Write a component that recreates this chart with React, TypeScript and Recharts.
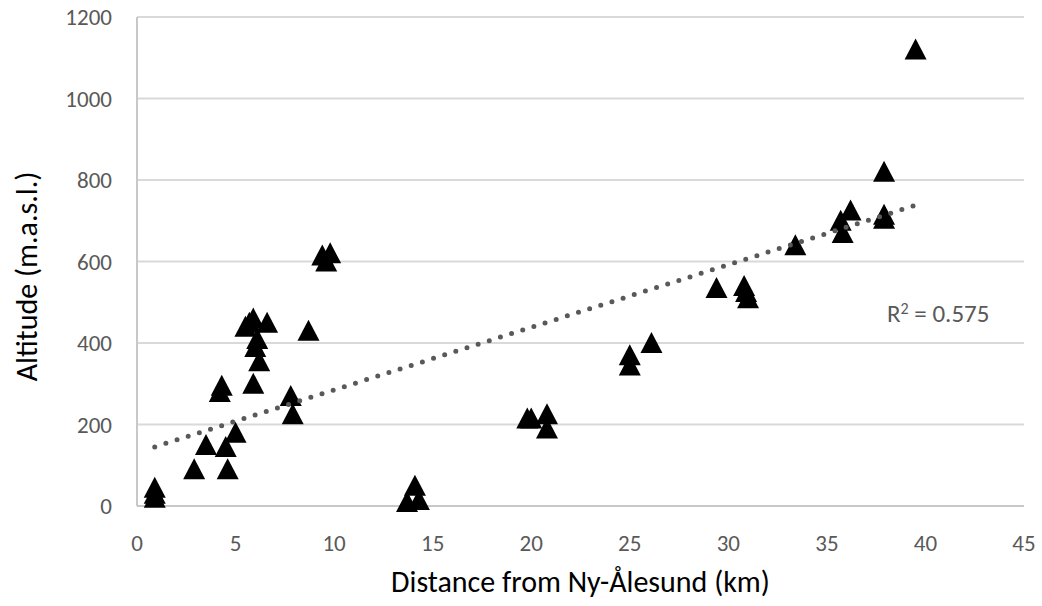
import { ScatterChart, Scatter, XAxis, YAxis, CartesianGrid, Label } from 'recharts';

// distance from Ny-Ålesund (km) and altitude (m.a.s.l.) per site
const distances = [
  0.9, 0.9, 0.9, 2.9, 3.5, 4.2, 4.3, 4.5, 4.6, 5.0,
  5.5, 5.7, 5.9, 5.9, 6.1, 6.0, 6.2, 6.6, 7.8, 7.9,
  8.7, 9.4, 9.8, 9.6, 13.7, 14.1, 14.3, 19.8, 20.0, 20.8,
  20.8, 25.0, 25.0, 26.1, 29.4, 30.8, 30.9, 31.0, 33.4, 35.7,
  35.8, 36.2, 37.9, 37.9, 37.9, 39.5,
];
const altitudes = [
  45, 30, 20, 90, 150, 280, 295, 145, 90, 180,
  440, 450, 460, 300, 410, 390, 355, 450, 270, 225,
  430, 615, 620, 600, 10, 50, 15, 215, 215, 225,
  190, 370, 345, 400, 535, 540, 525, 510, 640, 700,
  670, 725, 820, 715, 705, 1120,
];

// linear trendline ends as drawn
const trendX = [0.9, 39.5];
const trendY = [145, 738];

const xTicks = [0, 5, 10, 15, 20, 25, 30, 35, 40, 45];
const yTicks = [0, 200, 400, 600, 800, 1000, 1200];

const points = distances.map((d, i) => ({ x: d, y: altitudes[i] }));
const trend = trendX.map((d, i) => ({ x: d, y: trendY[i] }));

const FONT = 'Carlito, Lato, sans-serif';

const Triangle = (props: any) => {
  const { cx, cy } = props;
  if (cx == null || cy == null) return null;
  return <polygon points={`${cx},${cy - 11} ${cx + 11},${cy + 10} ${cx - 11},${cy + 10}`} fill="#000" />;
};

export default function App() {
  return (
    <div style={{ position: 'absolute', left: 0, top: 0, width: 1042, height: 606, fontFamily: FONT }}>
      <ScatterChart width={1042} height={606} margin={{ top: 17, right: 18, left: 0, bottom: 0 }}>
        <CartesianGrid horizontal vertical={false} stroke="#d9d9d9" strokeWidth={2} />
        <XAxis
          type="number"
          dataKey="x"
          domain={[0, 45]}
          ticks={xTicks}
          height={100}
          axisLine={{ stroke: '#c8c8c8', strokeWidth: 2 }}
          tickLine={false}
          tickMargin={23}
          tick={{ fill: '#595959', fontSize: 23, fontFamily: FONT }}
        >
          <Label
            content={({ viewBox }: any) => (
              <text x={viewBox.x + viewBox.width / 2} y={592} textAnchor="middle" fill="#000" fontSize={30} fontFamily={FONT}>
                Distance from Ny-Ålesund (km)
              </text>
            )}
          />
        </XAxis>
        <YAxis
          type="number"
          dataKey="y"
          domain={[0, 1200]}
          ticks={yTicks}
          width={137}
          axisLine={{ stroke: '#c8c8c8', strokeWidth: 2 }}
          tickLine={false}
          tickMargin={19}
          tick={{ fill: '#595959', fontSize: 23, fontFamily: FONT }}
        >
          <Label
            content={({ viewBox }: any) => {
              const cx = 37;
              const cy = viewBox.y + viewBox.height / 2 + 15;
              return (
                <text x={cx} y={cy} textAnchor="middle" fill="#000" fontSize={30} fontFamily={FONT} transform={`rotate(-90, ${cx}, ${cy})`}>
                  Altitude (m.a.s.l.)
                </text>
              );
            }}
          />
        </YAxis>
        <Scatter data={points} shape={<Triangle />} isAnimationActive={false} />
        <Scatter
          data={trend}
          shape={() => null}
          line={{ stroke: '#595959', strokeWidth: 5, strokeDasharray: '0 11.7', strokeLinecap: 'round' }}
          isAnimationActive={false}
        />
      </ScatterChart>
      <div style={{ position: 'absolute', left: 887, top: 301, fontSize: 25, lineHeight: 1, color: '#595959', whiteSpace: 'nowrap' }}>
        R<sup style={{ fontSize: 16, verticalAlign: 'top', lineHeight: 1 }}>2</sup> = 0.575
      </div>
    </div>
  );
}
